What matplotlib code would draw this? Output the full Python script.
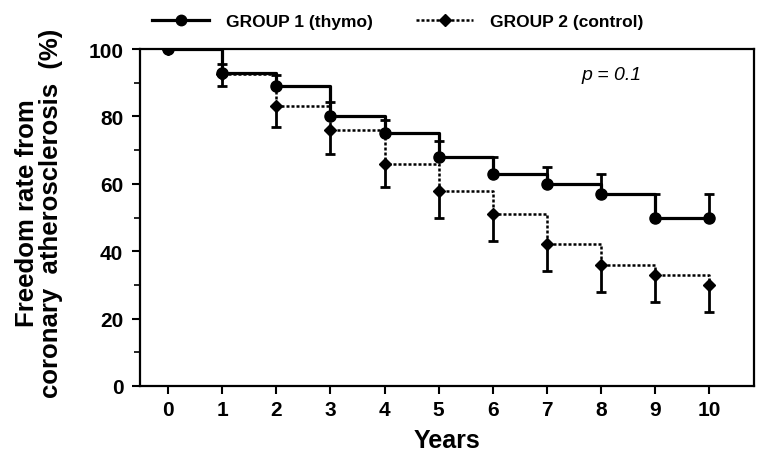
import matplotlib
matplotlib.use('Agg')
import matplotlib.pyplot as plt
import numpy as np
from matplotlib.ticker import MultipleLocator

plt.rcParams['font.family'] = ['Liberation Sans', 'DejaVu Sans']

years = [0, 1, 2, 3, 4, 5, 6, 7, 8, 9, 10]
# group 1 (thymo): survival and upper confidence limit
g1 = [100, 93, 89, 80, 75, 68, 63, 60, 57, 50, 50]
g1_up = [100, 95.5, 92.3, 84.2, 79, 72.8, 68, 65, 63, 57, 57]
# group 2 (control): survival and lower confidence limit
g2 = [100, 92.5, 83, 76, 66, 58, 51, 42, 36, 33, 30]
g2_lo = [100, 89, 77, 69, 59, 50, 43, 34, 28, 25, 22]
labels = ['GROUP 1 (thymo)', 'GROUP 2 (control)']

fig = plt.figure(figsize=(7.61, 4.60), dpi=100)
ax = fig.add_axes([0.184, 0.159, 0.807, 0.732])

g1 = np.array(g1)
g2 = np.array(g2)
up_err = np.array(g1_up) - g1
lo_err = g2 - np.array(g2_lo)
dots = (0, (1.2, 0.8))

# step lines
ax.step(years, g2, where='post', color='black', lw=1.8, linestyle=dots, zorder=2)
ax.step(years, g1, where='post', color='black', lw=2.3, zorder=3)

# error bars (upper for group 1, lower for group 2)
ax.errorbar(years, g2, yerr=[lo_err, np.zeros_like(lo_err)], fmt='none', ecolor='black',
            elinewidth=2, capsize=3.8, capthick=2, zorder=2)
ax.errorbar(years, g1, yerr=[np.zeros_like(up_err), up_err], fmt='none', ecolor='black',
            elinewidth=2, capsize=3.8, capthick=2, zorder=3)

# markers
ax.plot(years, g2, 'D', color='black', markersize=6.5, zorder=4)
ax.plot(years, g1, 'o', color='black', markersize=8, zorder=5)

# legend
h1, = ax.plot([], [], color='black', lw=2.3, marker='o', markersize=7.5)
h2, = ax.plot([], [], color='black', lw=1.8, linestyle=dots, marker='D', markersize=6.5)
ax.legend([h1, h2], labels, loc='center left',
          bbox_to_anchor=(152 / 761, 1 - 22 / 460), bbox_transform=fig.transFigure,
          ncol=2, frameon=False, handlelength=3.3, handletextpad=0.95,
          columnspacing=2.5, borderpad=0, borderaxespad=0,
          prop={'weight': 'bold', 'size': 12.5})

ax.text(8.2, 92.6, 'p = 0.1', style='italic', fontsize=14, ha='center', va='center')

ax.set_xlim(-0.52, 10.83)
ax.set_ylim(0, 100)
ax.set_xticks(years)
ax.set_yticks([0, 20, 40, 60, 80, 100])
ax.yaxis.set_minor_locator(MultipleLocator(10))
ax.tick_params(axis='both', which='major', direction='out', length=6, width=1.5, labelsize=15)
ax.tick_params(axis='x', which='major', pad=4)
ax.tick_params(axis='y', which='major', pad=6)
ax.tick_params(axis='y', which='minor', direction='out', length=4, width=1.2)
for lab in ax.get_xticklabels() + ax.get_yticklabels():
    lab.set_fontweight('bold')
for spine in ax.spines.values():
    spine.set_linewidth(1.6)

ax.set_xlabel('Years', fontsize=18, fontweight='bold')
ax.xaxis.set_label_coords(0.5, -0.125)
ax.set_ylabel('Freedom rate from\ncoronary  atherosclerosis  (%)', fontsize=18.5,
              fontweight='bold', linespacing=1.0)
ax.yaxis.set_label_coords(-0.125, 0.515)

fig.savefig('out.png', dpi=100)
